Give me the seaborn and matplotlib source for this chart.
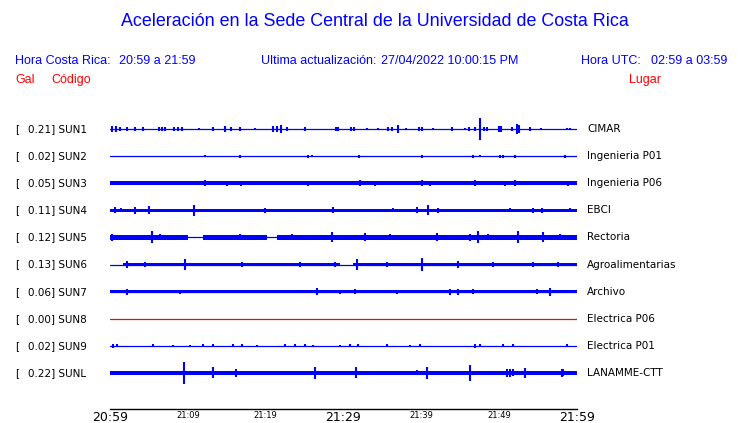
import numpy as np
import pandas as pd
import matplotlib
matplotlib.use("Agg")
import matplotlib.pyplot as plt
import seaborn as sns
from matplotlib.transforms import blended_transform_factory

# ---------------------------
# DATA
# ---------------------------
stations = ["SUN1", "SUN2", "SUN3", "SUN4", "SUN5", "SUN6", "SUN7", "SUN8", "SUN9", "SUNL"]
places = ["CIMAR", "Ingenieria P01", "Ingenieria P06", "EBCI", "Rectoria",
          "Agroalimentarias", "Archivo", "Electrica P06", "Electrica P01", "LANAMME-CTT"]
peaks = [0.21, 0.02, 0.05, 0.11, 0.12, 0.13, 0.06, 0.00, 0.02, 0.22]

# background noise half-amplitude (gal) and the minutes where it shows
noise = [0.0, 0.0, 0.036, 0.034, 0.042, 0.025, 0.03, 0.0, 0.0, 0.045]
noise_spans = [
    [], [], [(0, 60)], [(0, 60)],
    [(0, 10.0), (12.0, 20.2), (21.5, 60)],
    [(1.7, 29.5), (31.2, 60)],
    [(0, 60)], [], [], [(0, 60)],
]

# bursts: (minute after 20:59, half-amplitude in gal)
ev_sun1 = [(0.3, .06), (0.8, .06), (1.3, .04), (2.2, .04), (3.2, .03), (4.2, .03), (6.3, .03),
           (6.7, .03), (7.1, .03), (8.2, .04), (8.7, .04), (9.3, .03), (11.4, .02), (13.2, .03),
           (14.8, .06), (15.5, .03), (16.7, .03), (18.6, .02), (20.9, .05), (21.5, .06), (22.0, .08),
           (22.7, .03), (25.1, .03), (29.0, .03), (29.3, .03), (31.0, .03), (31.4, .04), (33.0, .02),
           (34.4, .02), (35.7, .03), (36.2, .03), (37.0, .08), (38.0, .02), (39.7, .04), (40.1, .03),
           (41.5, .02), (43.9, .03), (45.6, .02), (46.1, .03), (46.9, .04), (47.5, .21), (48.1, .04),
           (48.4, .03), (50.0, .05), (50.2, .06), (51.7, .03), (52.3, .10), (52.6, .08), (54.0, .03),
           (55.4, .02), (58.7, .02), (59.1, .02)]
ev_sun2 = [(12.2, .02), (16.7, .03), (25.4, .03), (26.0, .02), (32.0, .03), (40.1, .03),
           (46.6, .03), (47.5, .02), (50.1, .03), (50.5, .03), (52.0, .03), (58.5, .03)]
ev_sun3 = [(12.2, .06), (15.0, .05), (16.8, .05), (25.4, .05), (32.1, .06), (34.0, .05),
           (40.1, .06), (41.1, .05), (46.9, .06), (50.8, .05), (52.0, .06), (58.8, .05)]
ev_sun4 = [(0.6, .06), (1.4, .04), (3.2, .07), (5.0, .08), (10.8, .11), (19.9, .05), (28.7, .06),
           (36.4, .04), (39.4, .06), (40.9, .10), (42.1, .05), (51.4, .04), (54.3, .05),
           (55.5, .05), (59.1, .04)]
ev_sun5 = [(0.3, .07), (5.4, .12), (6.4, .06), (8.4, .05), (16.7, .06), (23.4, .06), (28.5, .10),
           (32.8, .08), (36.0, .06), (42.0, .08), (46.3, .07), (47.3, .12), (48.6, .06),
           (52.4, .12), (55.6, .10), (57.8, .06)]
ev_sun6 = [(2.2, .06), (4.5, .05), (9.6, .10), (17.0, .04), (24.4, .04), (28.9, .04), (31.7, .10),
           (35.6, .04), (40.1, .13), (44.7, .06), (49.2, .04), (54.3, .04), (57.6, .05)]
ev_sun7 = [(2.2, .06), (9.0, .04), (26.6, .07), (29.6, .04), (31.5, .05), (36.9, .04),
           (43.7, .06), (44.7, .06), (46.6, .05), (54.9, .05), (56.5, .08)]
ev_sun8 = []
ev_sun9 = [(0.4, .04), (0.9, .03), (5.5, .03), (8.1, .02), (10.3, .02), (12.0, .03), (13.2, .03),
           (15.8, .03), (16.9, .03), (18.9, .02), (22.5, .03), (23.8, .03), (25.1, .03), (26.1, .02),
           (29.6, .02), (30.8, .03), (31.9, .03), (35.6, .03), (38.5, .02), (39.8, .03), (46.9, .04),
           (47.5, .03), (50.5, .03), (51.8, .03), (58.7, .03)]
ev_sunl = [(0.4, .04), (9.5, .22), (13.2, .11), (16.2, .08), (26.3, .12), (31.6, .11), (39.4, .05),
           (40.7, .12), (46.3, .16), (51.0, .08), (51.4, .08), (51.8, .07), (53.3, .10),
           (58.1, .08), (58.2, .07)]
events = [ev_sun1, ev_sun2, ev_sun3, ev_sun4, ev_sun5, ev_sun6, ev_sun7, ev_sun8, ev_sun9, ev_sunl]

tick_minutes = list(range(0, 61, 5))
tick_text = {0: "20:59", 10: "21:09", 20: "21:19", 30: "21:29", 40: "21:39", 50: "21:49", 60: "21:59"}
big_ticks = [0, 30, 60]

BLUE = "#0000ff"
RED = "#ff0000"
GAIN = 1.85  # trace rows per gal

# ---------------------------
# PLOT
# ---------------------------
sns.set_style("white")
plt.rcParams["font.family"] = ["DejaVu Sans"]
plt.rcParams["text.color"] = "black"
plt.rcParams["xtick.color"] = "black"

W, H = 740, 423
fig = plt.figure(figsize=(W / 100, H / 100), dpi=100)
top_px, bot_px, row0, step = 106, 409, 129, 27.1
ax = fig.add_axes([110 / W, 1 - bot_px / H, 467 / W, (bot_px - top_px) / H])

# baselines through seaborn
base = pd.DataFrame({
    "minute": [0, 60] * len(stations),
    "row": np.repeat(np.arange(len(stations)), 2),
    "station": np.repeat(stations, 2),
})
pal = {s: (RED if s == "SUN8" else BLUE) for s in stations}
sns.lineplot(data=base, x="minute", y="row", hue="station", palette=pal,
             estimator=None, linewidth=0.9, legend=False, ax=ax)

for i, st in enumerate(stations):
    for a, b in noise_spans[i]:
        ax.fill_between([a, b], i - GAIN * noise[i], i + GAIN * noise[i],
                        color=BLUE, linewidth=0)
    if events[i]:
        t = [e[0] for e in events[i]]
        amp = np.array([e[1] for e in events[i]])
        ax.vlines(t, i - GAIN * amp, i + GAIN * amp, color=BLUE, linewidth=1.5)

ax.set_xlim(0, 60)
ax.set_ylim((bot_px - row0) / step, (top_px - row0) / step)
for s in ["top", "left", "right"]:
    ax.spines[s].set_visible(False)
ax.spines["bottom"].set_color("black")
ax.spines["bottom"].set_linewidth(1.0)
ax.set_yticks([])
ax.set_xlabel("")
ax.set_ylabel("")
ax.set_xticks(tick_minutes)
ax.set_xticklabels([tick_text.get(m, "") for m in tick_minutes])
ax.tick_params(axis="x", direction="in", length=6.5, width=1, color="black",
               labelcolor="black", pad=1.5)
for m, lab in zip(tick_minutes, ax.get_xticklabels()):
    lab.set_fontsize(9 if m in big_ticks else 6)

# station labels
tr = blended_transform_factory(fig.transFigure, ax.transData)
for i, st in enumerate(stations):
    ax.text(15 / W, i, "[", transform=tr, ha="left", va="center", fontsize=7.5, color="black")
    ax.text(28 / W, i, f"{peaks[i]:.2f}] {st}", transform=tr, ha="left", va="center",
            fontsize=7.5, color="black")
    ax.text(587 / W, i, places[i], transform=tr, ha="left", va="center", fontsize=7.5, color="black")

# header texts
hf = "Liberation Sans"
fig.text(375 / W, 1 - 22 / H, "Aceleración en la Sede Central de la Universidad de Costa Rica",
         ha="center", va="center", color=BLUE, fontsize=12.9, family=hf)
hy = 1 - 61 / H
fig.text(15 / W, hy, "Hora Costa Rica:", color=BLUE, fontsize=9, family=hf, va="center")
fig.text(119 / W, hy, "20:59 a 21:59", color=BLUE, fontsize=9, family=hf, va="center")
fig.text(261 / W, hy, "Ultima actualización:", color=BLUE, fontsize=9, family=hf, va="center")
fig.text(381 / W, hy, "27/04/2022 10:00:15 PM", color=BLUE, fontsize=9, family=hf, va="center")
fig.text(581 / W, hy, "Hora UTC:", color=BLUE, fontsize=9, family=hf, va="center")
fig.text(651 / W, hy, "02:59 a 03:59", color=BLUE, fontsize=9, family=hf, va="center")
ry = 1 - 80 / H
fig.text(15 / W, ry, "Gal", color=RED, fontsize=9, family=hf, va="center")
fig.text(51 / W, ry, "Código", color=RED, fontsize=9, family=hf, va="center")
fig.text(629 / W, ry, "Lugar", color=RED, fontsize=9, family=hf, va="center")

fig.savefig("out.png", dpi=100, facecolor="white")
